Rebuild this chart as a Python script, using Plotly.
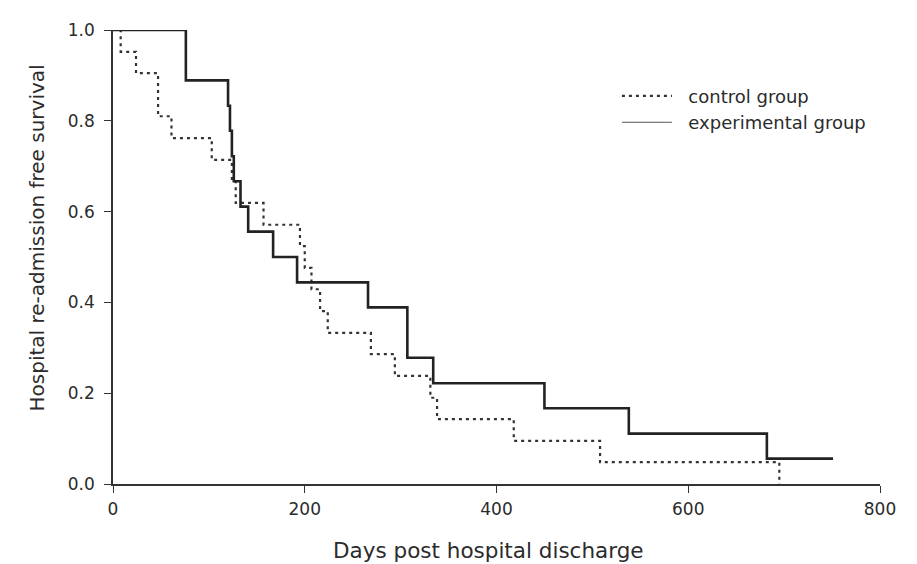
import plotly.graph_objects as go

# Experimental group (solid) - Kaplan-Meier steps
exp_days = [0, 76, 120, 122, 124, 126, 133, 141, 167, 192, 266, 307, 334, 450, 538, 682, 751]
exp_surv = [1.0, 0.889, 0.833, 0.778, 0.722, 0.667, 0.611, 0.556, 0.5, 0.444, 0.389, 0.278,
            0.222, 0.167, 0.111, 0.056, 0.056]

# Control group (dotted)
ctl_days = [0, 8, 24, 47, 61, 103, 124, 128, 157, 195, 200, 207, 216, 224, 269, 294, 331, 338,
            418, 508, 695]
ctl_surv = [1.0, 0.952, 0.905, 0.810, 0.762, 0.714, 0.667, 0.619, 0.571, 0.524, 0.476, 0.429,
            0.381, 0.333, 0.286, 0.238, 0.190, 0.143, 0.095, 0.048, 0.0]

x_ticks = [0, 200, 400, 600, 800]
y_ticks = [0.0, 0.2, 0.4, 0.6, 0.8, 1.0]

font = "DejaVu Sans, Liberation Sans, Arial, sans-serif"
ink = "#2b2b2b"
dot_style = dict(color="#333333", width=2.2, dash="3px,4px")

fig = go.Figure()
fig.add_trace(go.Scatter(x=ctl_days, y=ctl_surv, mode="lines", line_shape="hv",
                         name="control group", showlegend=False, line=dot_style))
fig.add_trace(go.Scatter(x=exp_days, y=exp_surv, mode="lines", line_shape="hv",
                         name="experimental group", showlegend=False,
                         line=dict(color="#222222", width=2.6)))
# legend entries (sample styles as in the original key)
fig.add_trace(go.Scatter(x=[None], y=[None], mode="lines",
                         name="\u00a0\u00a0control group", line=dot_style))
fig.add_trace(go.Scatter(x=[None], y=[None], mode="lines",
                         name="\u00a0\u00a0experimental group",
                         line=dict(color="#555555", width=1.2)))

fig.update_layout(
    width=917, height=564,
    margin=dict(l=113, r=37, t=30, b=80, pad=0),
    paper_bgcolor="white", plot_bgcolor="white",
    font=dict(family=font, size=15, color=ink),
    showlegend=True,
    legend=dict(x=0.657, y=0.895, xanchor="left", yanchor="top",
                bgcolor="rgba(0,0,0,0)", font=dict(size=18, color=ink),
                itemwidth=50, tracegroupgap=0),
    xaxis=dict(range=[0, 800], tickvals=x_ticks, ticktext=[str(v) for v in x_ticks],
               showgrid=False, zeroline=False, showline=True, linecolor="#333333",
               linewidth=1.5, ticks="outside", ticklen=7, tickcolor="#333333",
               tickfont=dict(size=17, color=ink), automargin=False,
               ticklabelstandoff=2),
    yaxis=dict(range=[0, 1.0], tickvals=y_ticks, tickformat=".1f",
               showgrid=False, zeroline=False, showline=True, linecolor="#333333",
               linewidth=1.5, ticks="outside", ticklen=7, tickcolor="#333333",
               tickfont=dict(size=17, color=ink), automargin=False,
               ticklabelstandoff=6),
    annotations=[
        dict(text="Days post hospital discharge", xref="paper", yref="paper",
             x=0.490, y=-0.1466, xanchor="center", yanchor="middle", showarrow=False,
             font=dict(size=21.5, color=ink)),
        dict(text="Hospital re-admission free survival", xref="paper", yref="paper",
             x=-0.099, y=0.541, xanchor="center", yanchor="middle", showarrow=False,
             textangle=-90, font=dict(size=20, color=ink)),
    ],
)
fig.write_html("out.html")
